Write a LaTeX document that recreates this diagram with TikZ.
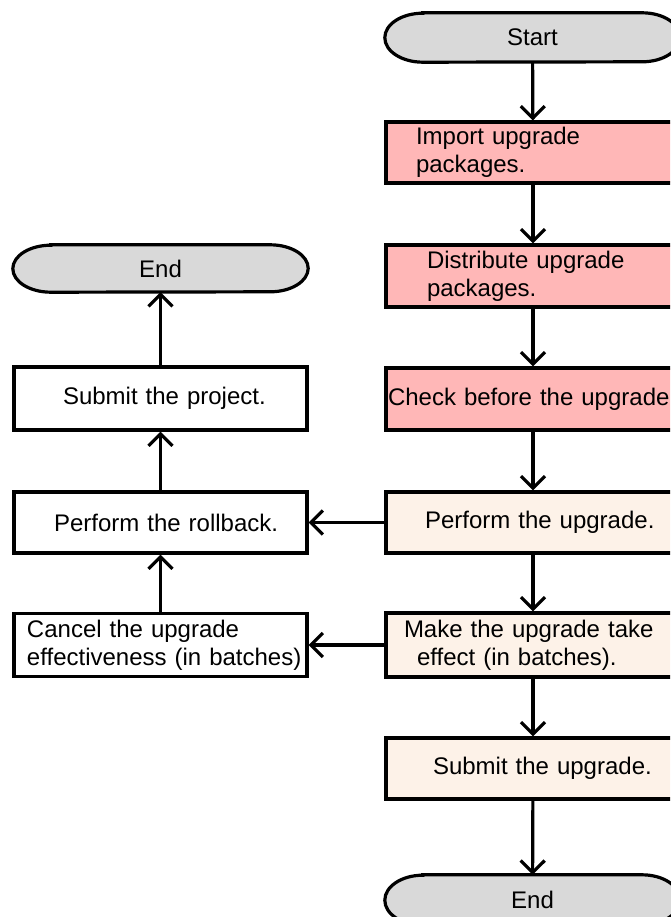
\documentclass[tikz,border=0pt]{standalone}
\usepackage{fontspec}
\setmainfont{Liberation Sans}
\usetikzlibrary{arrows.meta,backgrounds}
\definecolor{termgray}{HTML}{D9D9D9}
\definecolor{prepink}{HTML}{FFB7B7}
\definecolor{runcream}{HTML}{FDF2E8}
\begin{document}
\begin{tikzpicture}[x=1pt,y=-1pt,
  every node/.style={font=\fontsize{24}{28}\selectfont, text=black},
  lpad/.code 2 args={%
    \pgfmathsetmacro\boxtw{#1-2*#2}%
    \edef\next{\noexpand\tikzset{inner xsep=#2pt,text width=\boxtw pt,align=left}}\next},
  rbox/.style={draw, line width=3.2pt, rectangle, minimum width=294, inner ysep=1pt},
  lbox/.style={draw, line width=3.2pt, rectangle, minimum width=293, inner ysep=1pt, fill=white},
  term/.style={rectangle, minimum width=295, inner sep=0pt},
  termline/.style={draw, line width=3.2pt, fill=termgray},
  arr/.style={line width=3.2pt, -{Straight Barb[length=12pt,width=24pt]}}
]
\clip (0,0) rectangle (670,917);
\useasboundingbox (0,0) rectangle (670,917);

% main upgrade flow
\node[term, minimum height=49] (start) at (532.5,37.5) {Start};
\node[rbox, fill=prepink, minimum height=61, lpad={294}{30}] (imp) at (533,152.5) {Import upgrade\\packages.};
\node[rbox, fill=prepink, minimum height=62, lpad={294}{41}] (dist) at (533,276) {Distribute upgrade\\packages.};
\node[rbox, fill=prepink, minimum height=62, lpad={294}{2}] (check) at (533,399) {\mbox{Check before the upgrade}};
\node[rbox, fill=runcream, minimum height=61, lpad={294}{39}] (perf) at (533,522.5) {\mbox{Perform the upgrade.}};
\node[rbox, fill=runcream, minimum height=64, lpad={294}{18}] (take) at (533,645) {\mbox{Make the upgrade take}\\\hspace*{13pt}effect (in batches).};
\node[rbox, fill=runcream, minimum height=61, lpad={294}{47}] (subup) at (533,768.5) {\mbox{Submit the upgrade.}};
\node[term, minimum height=50] (endr) at (532.5,900) {End};

% rollback flow
\node[term, minimum height=47] (endl) at (160.5,268.5) {End};
\node[lbox, minimum height=63, lpad={293}{49}] (subpr) at (160.5,398.5) {\mbox{Submit the project.}};
\node[lbox, minimum height=61, lpad={293}{40}] (roll) at (160.5,522.5) {\mbox{Perform the rollback.}};
\node[lbox, minimum height=63, lpad={293}{13}] (cancel) at (160.5,645) {Cancel the upgrade\\\mbox{effectiveness (in batches)}};

% terminal outlines: flat top and bottom with elliptical ends
\begin{scope}[on background layer]
  \foreach \t/\r in {start/24.5,endr/25,endl/23.5}{
    \path[termline] ([xshift=38pt]\t.north west) -- ([xshift=-38pt]\t.north east)
      arc[start angle=90, end angle=-90, x radius=38pt, y radius=\r pt]
      -- ([xshift=38pt]\t.south west)
      arc[start angle=270, end angle=90, x radius=38pt, y radius=\r pt]
      -- cycle;
  }
\end{scope}

\draw[arr] (start) -- (imp);
\draw[arr] (imp) -- (dist);
\draw[arr] (dist) -- (check);
\draw[arr] (check) -- (perf);
\draw[arr] (perf) -- (take);
\draw[arr] (take) -- (subup);
\draw[arr] (subup) -- (endr);

\draw[arr] (perf) -- (roll);
\draw[arr] (take) -- (cancel);
\draw[arr] (cancel) -- (roll);
\draw[arr] (roll) -- (subpr);
\draw[arr] (subpr) -- (endl);
\end{tikzpicture}
\end{document}
